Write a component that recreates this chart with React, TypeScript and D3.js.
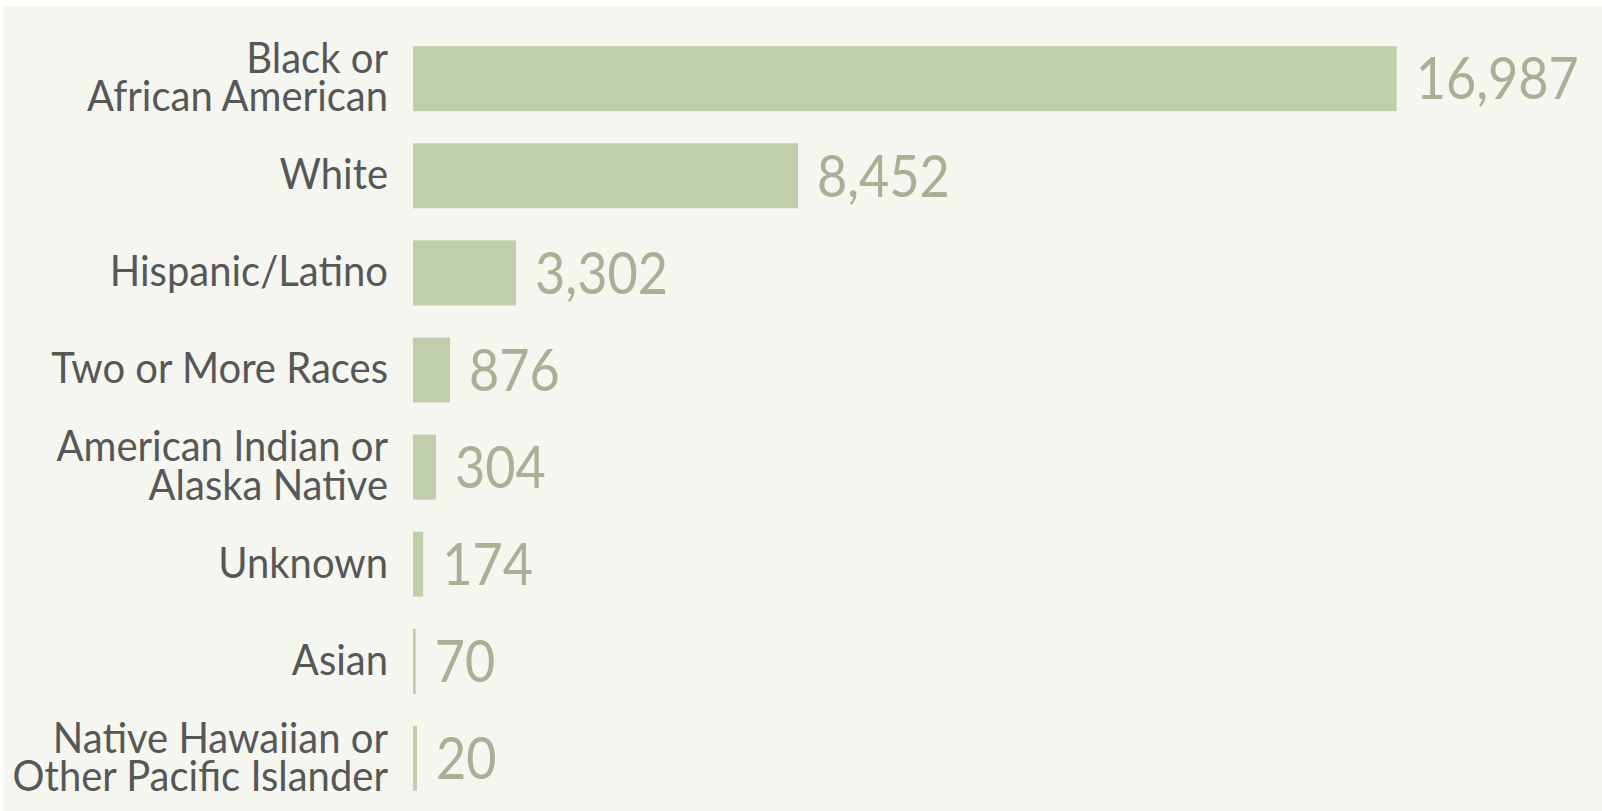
import React from "react";
import * as d3 from "d3";

const categories: string[][] = [
  ["Black or", "African American"],
  ["White"],
  ["Hispanic/Latino"],
  ["Two or More Races"],
  ["American Indian or", "Alaska Native"],
  ["Unknown"],
  ["Asian"],
  ["Native Hawaiian or", "Other Pacific Islander"],
];
// labelled counts
const counts: number[] = [16987, 8452, 3302, 876, 304, 174, 70, 20];
// bar lengths as drawn in the picture (same units as the top bar)
const barMeasure: number[] = [16987, 6648, 1779, 639, 397, 175, 47, 69];

const W = 1602;
const H = 811;

export default function App() {
  const keys = categories.map((_, i) => String(i));
  const y = d3
    .scaleBand<string>()
    .domain(keys)
    .range([30.15, 806.95])
    .paddingInner(0.3306)
    .paddingOuter(0.1653);
  const x = d3.scaleLinear().domain([0, 16987]).range([413, 1396.7]);
  const fmt = d3.format(",");
  const catSize = 43;
  const valSize = 58;
  const catScale = 0.93;
  const valScale = 0.9;
  const lineGap = 38.5;
  const capC = 0.7165 * catSize;
  const capV = 0.7165 * valSize;

  return (
    <svg
      width={W}
      height={H}
      style={{ position: "absolute", left: 0, top: 0, display: "block" }}
      fontFamily="Lato, 'Open Sans', sans-serif"
    >
      <rect x={0} y={0} width={W} height={H} fill="#ffffff" />
      <rect x={3} y={6} width={W - 3} height={H - 6} fill="#f4f6ef" />
      {categories.map((lines, i) => {
        const top = y(String(i)) as number;
        const bw = y.bandwidth();
        const cy = top + bw / 2;
        const x0 = x(0);
        const x1 = x(barMeasure[i]);
        const n = lines.length;
        const blockH = capC + (n - 1) * lineGap;
        const firstBase = cy - blockH / 2 + capC - 2;
        return (
          <g key={i}>
            <rect x={x0} y={top} width={Math.max(1, x1 - x0)} height={bw} fill="#c1ceab" />
            <text
              transform={`translate(388,${firstBase}) scale(${catScale},1)`}
              textAnchor="end"
              fontSize={catSize}
              fill="#575757"
            >
              {lines.map((ln, j) => (
                <tspan key={j} x={0} dy={j === 0 ? 0 : lineGap}>
                  {ln}
                </tspan>
              ))}
            </text>
            <text
              transform={`translate(${x1 + 19},${cy + capV / 2}) scale(${valScale},1)`}
              fontSize={valSize}
              fill="#a8b095"
            >
              {fmt(counts[i])}
            </text>
          </g>
        );
      })}
    </svg>
  );
}
